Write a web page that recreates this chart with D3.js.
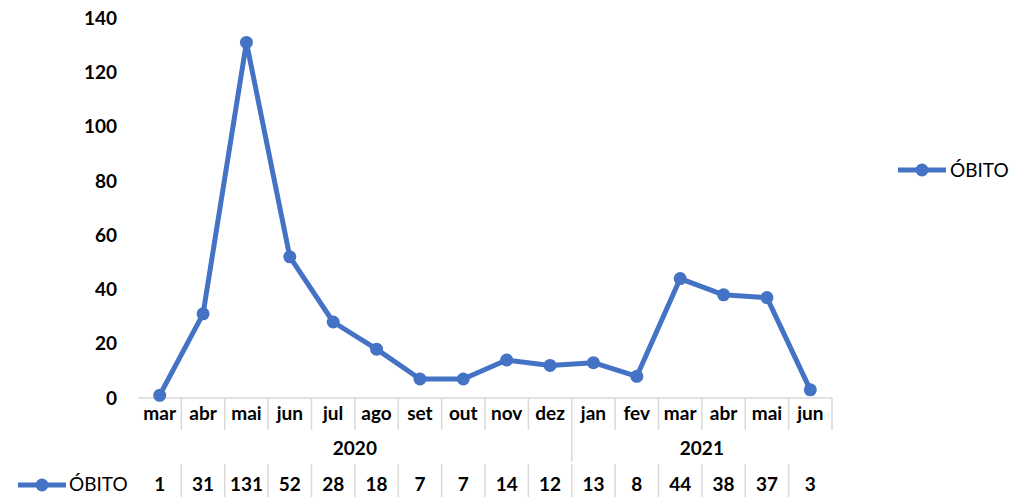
<!DOCTYPE html>
<html>
<head>
<meta charset="utf-8">
<script src="https://cdn.jsdelivr.net/npm/d3@7"></script>
<style>
    body { margin: 0; background: #fff; }
    text { font-family: Lato, 'Open Sans', sans-serif; fill: #000; font-weight: 700; }
    text.plain { font-weight: 400; }
</style>
</head>
<body>
<div id="chart"></div>
<script>
// Monthly deaths, mar/2020 .. jun/2021
const months = ['mar', 'abr', 'mai', 'jun', 'jul', 'ago', 'set', 'out', 'nov', 'dez', 'jan', 'fev', 'mar', 'abr', 'mai', 'jun']
const years = ['2020', '2020', '2020', '2020', '2020', '2020', '2020', '2020', '2020', '2020', '2021', '2021', '2021', '2021', '2021', '2021']
const obito = [1, 31, 131, 52, 28, 18, 7, 7, 14, 12, 13, 8, 44, 38, 37, 3]
const yTicks = [0, 20, 40, 60, 80, 100, 120, 140]
const seriesName = 'ÓBITO'

const W = 1016, H = 497
const margin = { left: 138, right: 184, top: 18, bottom: 99 }
const blue = '#4472C4'
const grid = '#d9d9d9'
const fs = 19

const svg = d3.select('#chart').append('svg')
    .attr('width', W)
    .attr('height', H)

const idx = months.map((m, i) => i)
const x = d3.scaleBand()
    .domain(idx)
    .range([margin.left, W - margin.right])
const y = d3.scaleLinear()
    .domain([0, 140])
    .range([H - margin.bottom, margin.top])

const baseY = y(0)

// y axis labels (no axis line)
svg.append('g')
    .selectAll('text')
    .data(yTicks)
    .enter()
    .append('text')
    .attr('x', 117)
    .attr('y', d => y(d))
    .attr('dy', '0.35em')
    .attr('text-anchor', 'end')
    .attr('font-size', fs)
    .text(d => d)

// category axis line
svg.append('line')
    .attr('x1', x.range()[0]).attr('x2', x.range()[1])
    .attr('y1', baseY).attr('y2', baseY)
    .attr('stroke', grid).attr('stroke-width', 1.5)

// separators between month labels; the year boundary gets a longer one
const yearStart = i => i === 0 || years[i] !== years[i - 1]
const seps = idx.slice(1).concat([months.length])
svg.append('g')
    .selectAll('line')
    .data(seps)
    .enter()
    .append('line')
    .attr('x1', i => x.step() * i + margin.left)
    .attr('x2', i => x.step() * i + margin.left)
    .attr('y1', baseY)
    .attr('y2', i => (i < months.length && yearStart(i)) ? baseY + 64 : baseY + 32)
    .attr('stroke', grid).attr('stroke-width', 1.5)

svg.append('g')
    .selectAll('text')
    .data(months)
    .enter()
    .append('text')
    .attr('x', (d, i) => x(i) + x.bandwidth() / 2)
    .attr('y', baseY + 22)
    .attr('text-anchor', 'middle')
    .attr('font-size', fs)
    .text(d => d)

// year labels centred on their run of months
const yearGroups = d3.groups(idx, i => years[i])
svg.append('g')
    .selectAll('text')
    .data(yearGroups)
    .enter()
    .append('text')
    .attr('x', d => (x(d[1][0]) + x(d[1][d[1].length - 1]) + x.bandwidth()) / 2)
    .attr('y', baseY + 57)
    .attr('text-anchor', 'middle')
    .attr('font-size', fs)
    .text(d => d[0])

// data table row
const tableY = baseY + 93
svg.append('g')
    .selectAll('line')
    .data(idx.slice(1))
    .enter()
    .append('line')
    .attr('x1', i => x.step() * i + margin.left)
    .attr('x2', i => x.step() * i + margin.left)
    .attr('y1', baseY + 66)
    .attr('y2', H)
    .attr('stroke', grid).attr('stroke-width', 1.5)

svg.append('g')
    .selectAll('text')
    .data(obito)
    .enter()
    .append('text')
    .attr('x', (d, i) => x(i) + x.bandwidth() / 2)
    .attr('y', tableY)
    .attr('text-anchor', 'middle')
    .attr('font-size', fs)
    .text(d => d)

function legendKey(g, cx, cy) {
    g.append('line')
        .attr('x1', cx - 24).attr('x2', cx + 24)
        .attr('y1', cy).attr('y2', cy)
        .attr('stroke', blue).attr('stroke-width', 5)
    g.append('circle')
        .attr('cx', cx).attr('cy', cy).attr('r', 6.5)
        .attr('fill', blue)
}

const tableKey = svg.append('g')
legendKey(tableKey, 42, tableY - 6)
tableKey.append('text')
    .attr('class', 'plain')
    .attr('x', 69).attr('y', tableY)
    .attr('font-size', fs)
    .text(seriesName)

// series line + markers
const line = d3.line()
    .x((d, i) => x(i) + x.bandwidth() / 2)
    .y(d => y(d))

svg.append('path')
    .datum(obito)
    .attr('d', line)
    .attr('fill', 'none')
    .attr('stroke', blue)
    .attr('stroke-width', 5)
    .attr('stroke-linejoin', 'round')

svg.append('g')
    .selectAll('circle')
    .data(obito)
    .enter()
    .append('circle')
    .attr('cx', (d, i) => x(i) + x.bandwidth() / 2)
    .attr('cy', d => y(d))
    .attr('r', 6.5)
    .attr('fill', blue)

// right-hand legend
const legend = svg.append('g')
legendKey(legend, 922, 170)
legend.append('text')
    .attr('class', 'plain')
    .attr('x', 950).attr('y', 170)
    .attr('dy', '0.35em')
    .attr('font-size', fs)
    .text(seriesName)
</script>
</body>
</html>
